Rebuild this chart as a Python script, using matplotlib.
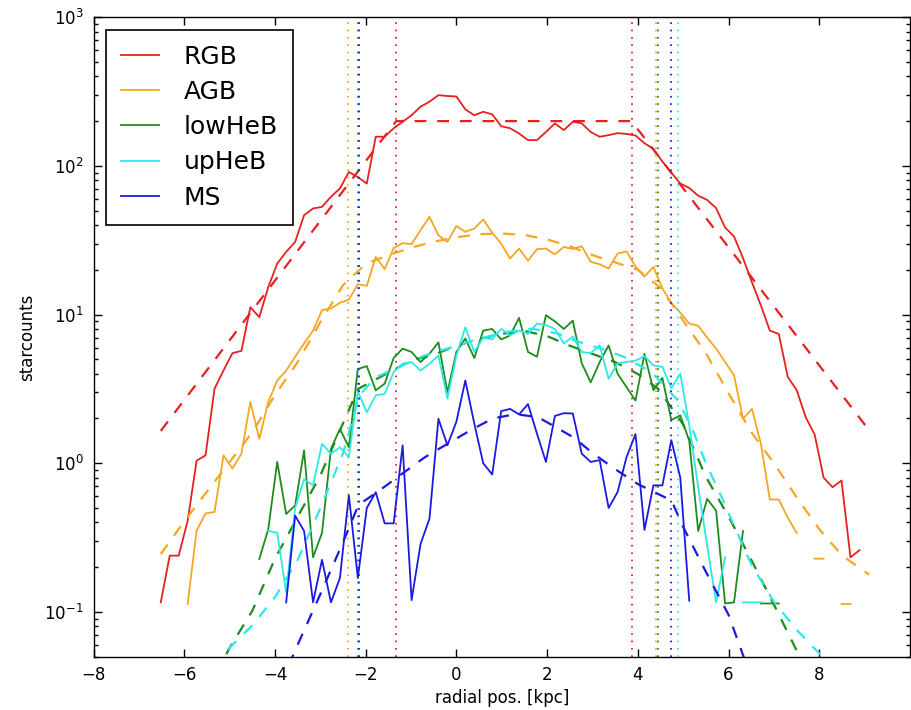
import numpy as np
import matplotlib
matplotlib.use("Agg")
import matplotlib.pyplot as plt

plt.rcParams['font.family'] = ['DejaVu Sans']
plt.rcParams['lines.scale_dashes'] = False
plt.rcParams['axes.linewidth'] = 1.0

nan = np.nan

# ---- binning of the radial positions (bin centres, kpc) ----
bin_start = -6.52
bin_width = 0.1975
n_bins = 79
radial_pos = bin_start + bin_width * np.arange(n_bins)

# ---- star counts per population (NaN = empty bin) ----
rgb_counts = [0.116, 0.239, 0.239, 0.41, 1.04, 1.13, 3.17, 4.2, 5.5, 5.7,
              11.2, 9.6, 15.3, 22, 26.4, 30.8, 46.6, 51.7, 53, 62,
              70.5, 91, 84, 76, 157, 157, 179, 198, 219, 250,
              270, 299, 295, 293, 240, 219, 231, 222, 185, 179,
              165, 149, 149, 169, 193, 174, 198, 193, 169, 157,
              161, 166, 164, 160, 142, 130, 107, 90, 76, 71,
              63, 59, 52, 38.5, 33.5, 24, 16.5, 11.5, 7.8, 7.4,
              3.8, 3.1, 2.04, 1.56, 0.80, 0.69, 0.765, 0.233, 0.26]

agb_counts = [nan, nan, nan, 0.113, 0.352, 0.46, 0.47, 1.13, 0.92, 1.16,
              2.58, 1.46, 2.58, 3.6, 4.2, 5.2, 6.4, 7.8, 10.7, 11,
              12, 12.6, 16.0, 15.6, 24.4, 20.2, 28, 30.2, 29.8, 36.9,
              45.4, 34.1, 30.8, 39.4, 36, 37.9, 43.6, 35.5, 30, 23.8,
              27.8, 23, 27.5, 27.8, 25.4, 28.5, 27.6, 28.8, 22.6, 21.8,
              20.4, 25.7, 26.6, 21, 18, 20.9, 15, 12, 10.3, 8.7,
              8.4, 7.0, 5.9, 4.8, 3.9, 1.99, 2.32, 1.35, 0.57, 0.57,
              0.43, 0.34, nan, 0.228, 0.228, nan, 0.113, 0.113, nan]

lowheb_counts = [nan] * 11 + [
              0.227, 0.36, 1.02, 0.456, 0.52, 1.22, 0.233, 0.34, 1.25, 1.7,
              1.28, 4.3, 4.5, 3.09, 3.43, 5.1, 5.9, 5.6, 4.79, 5.45,
              6.5, 3.0, 5.6, 6.9, 5.1, 7.8, 8.0, 6.8, 7.24, 9.5,
              5.6, 5.2, 9.9, 9.0, 8.0, 9.1, 4.7, 3.5, 4.79, 6.2,
              4.0, 3.25, 2.64, 5.45, 3.1, 3.75, 1.95, 2.1, 1.42, 0.35,
              0.576, 0.48, 0.114, 0.116, 0.35, nan, 0.114, 0.114, 0.114] + [nan] * 9

upheb_counts = [nan] * 12 + [
              0.352, 0.34, 0.135, 0.5, 0.78, 0.71, 1.35, 1.16, 1.28, 1.1,
              3.05, 2.2, 2.86, 2.93, 4.1, 4.67, 4.79, 4.2, 4.67, 5.3,
              2.72, 5.3, 8.2, 5.6, 7.0, 6.8, 8.0, 7.24, 7.8, 7.4,
              8.7, 8.5, 8.0, 6.4, 7.1, 5.6, 5.5, 6.2, 3.7, 4.7,
              4.8, 4.9, 5.25, 4.55, 4.45, 3.2, 4.0, 1.8, 0.69, 0.28,
              0.116, 0.233, nan, 0.116, 0.116, 0.116] + [nan] * 11

ms_counts = [nan] * 14 + [
              0.116, 0.444, 0.35, 0.116, 0.224, 0.116, 0.169, 0.61, 0.169, 0.5,
              0.638, 0.394, 0.394, 1.32, 0.12, 0.286, 0.425, 1.99, 1.32, 1.9,
              3.6, 1.85, 1.0, 0.84, 2.24, 2.32, 2.13, 2.5, 1.58, 1.02,
              2.08, 2.17, 2.16, 1.16, 1.02, 1.05, 0.5, 0.64, 1.1, 1.57,
              0.356, 0.71, 0.71, 1.43, 0.8, 0.119] + [nan] * 19

# ---- model profiles (dashed) ----
rgb_model_x = [-6.52, -1.33, 3.86, 9.02]
rgb_model_y = [1.65, 200, 200, 1.79]

agb_model_x = [-6.52, -6.0, -5.5, -5.0, -4.5, -4.0, -3.5, -3.0, -2.5, -2.0, -1.5,
               -1.0, -0.5, 0.0, 0.5, 1.0, 1.5, 2.0, 2.5, 3.0, 3.5, 4.0, 4.5,
               5.0, 5.5, 6.0, 6.5, 7.0, 7.5, 8.0, 8.5, 9.1]
agb_model_y = [0.245, 0.407, 0.646, 1.02, 1.62, 2.88, 4.8, 8.9, 15.8, 21.9, 25.1,
               28.2, 30.9, 33.1, 34.7, 35.1, 34.3, 32, 28.8, 25.1, 22.4, 20, 15.1,
               9.1, 5.5, 2.95, 1.62, 1.0, 0.59, 0.36, 0.24, 0.178]

lowheb_model_x = [-5.3, -5.0, -4.5, -4.0, -3.5, -3.0, -2.5, -2.17, -1.5, -1.0,
                  -0.5, 0.0, 0.5, 1.0, 1.5, 2.0, 2.5, 3.0, 3.5, 4.0, 4.45,
                  5.0, 5.5, 6.0, 6.5, 7.0, 7.5]
lowheb_model_y = [0.038, 0.0575, 0.102, 0.229, 0.437, 0.83, 1.86, 3.16, 4.07, 4.9,
                  5.37, 6.17, 6.84, 7.41, 7.76, 7.16, 6.17, 5.43, 4.79, 3.98, 3.16,
                  1.82, 0.81, 0.437, 0.224, 0.112, 0.055]

upheb_model_x = [-5.4, -5.0, -4.5, -4.0, -3.5, -3.0, -2.5, -2.15, -1.8, -1.25,
                 -0.7, -0.1, 0.5, 1.1, 1.65, 2.25, 2.6, 3.2, 3.7, 4.3, 4.89,
                 5.2, 5.5, 5.85, 6.15, 6.5, 7.0, 7.5, 8.0, 8.4]
upheb_model_y = [0.0437, 0.0575, 0.0813, 0.126, 0.224, 0.5, 1.17, 2.82, 3.76, 4.47,
                 5.31, 6.03, 6.89, 7.62, 8.04, 7.43, 6.7, 5.89, 5.18, 4.1, 2.63,
                 1.7, 1.0, 0.589, 0.363, 0.209, 0.117, 0.0759, 0.0525, 0.0398]

ms_model_x = [-3.7, -3.5, -3.0, -2.5, -2.16, -1.7, -1.2, -0.7, -0.2, 0.3, 0.8,
              1.3, 1.8, 2.2, 2.6, 3.0, 3.5, 4.0, 4.74, 5.0, 5.5, 6.0, 6.4]
ms_model_y = [0.0437, 0.0603, 0.132, 0.295, 0.525, 0.655, 0.849, 1.096, 1.35, 1.66, 2.0,
              2.14, 2.04, 1.74, 1.48, 1.17, 0.912, 0.724, 0.562, 0.372, 0.186, 0.0955, 0.0437]

# ---- break radii (dotted verticals) ----
rgb_breaks = [-1.33, 3.86]
agb_breaks = [-2.40, 4.40]
lowheb_breaks = [-2.17, 4.45]
upheb_breaks = [-2.15, 4.89]
ms_breaks = [-2.16, 4.74]

labels = ["RGB", "AGB", "lowHeB", "upHeB", "MS"]
colors = ["#e82020", "#f5a623", "#1e8c1e", "#2ee8e8", "#1a1ae0"]

populations = [
    (rgb_counts, rgb_model_x, rgb_model_y, rgb_breaks),
    (agb_counts, agb_model_x, agb_model_y, agb_breaks),
    (lowheb_counts, lowheb_model_x, lowheb_model_y, lowheb_breaks),
    (upheb_counts, upheb_model_x, upheb_model_y, upheb_breaks),
    (ms_counts, ms_model_x, ms_model_y, ms_breaks),
]

fig = plt.figure(figsize=(9.12, 7.10), dpi=100)
ax = fig.add_axes([0.1027, 0.0751, 0.8951, 0.9007])

dashed = (0, (8.5, 7.8))
dotted = (0, (1.2, 4.1))

for (counts, mx, my, brk), lab, col in zip(populations, labels, colors):
    ax.plot(radial_pos, np.array(counts, dtype=float), '-', color=col, lw=1.3, label=lab)
    ax.plot(mx, my, linestyle=dashed, color=col, lw=1.6)
    for b in brk:
        ax.axvline(b, color=col, linestyle=dotted, lw=1.3)

ax.set_yscale('log')
ax.set_xlim(-8, 10)
ax.set_ylim(0.05, 1000)
ax.set_xticks([-8, -6, -4, -2, 0, 2, 4, 6, 8])

ax.tick_params(which='both', direction='in', top=True, right=True, labelsize=12)
ax.tick_params(which='major', length=6, width=1)
ax.tick_params(which='minor', length=3, width=1)
ax.tick_params(axis='x', pad=7)
ax.tick_params(axis='y', pad=7)

ax.set_xlabel("radial pos. [kpc]", fontsize=12, labelpad=3)
ax.set_ylabel("starcounts", fontsize=12, labelpad=6)

leg = ax.legend(loc='upper left', fontsize=18, handlelength=1.5, handletextpad=1.0,
                borderpad=0.6, labelspacing=0.45, fancybox=False, framealpha=1,
                borderaxespad=0.5)
leg.get_frame().set_edgecolor('black')
leg.get_frame().set_linewidth(1.2)

fig.savefig("out.png", dpi=100, facecolor='white')
